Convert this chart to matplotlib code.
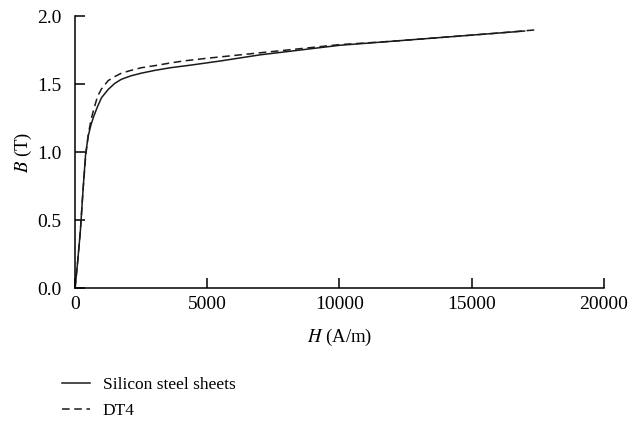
import matplotlib
matplotlib.use("Agg")
import matplotlib.pyplot as plt

# B-H magnetisation curves of two core materials
h_silicon = [0, 100, 200, 300, 400, 500, 600, 700, 850, 1000, 1250, 1500, 1750,
             2100, 2500, 3000, 3600, 4400, 5500, 7000, 8500, 10000, 12000,
             14000, 16000, 17000]
b_silicon = [0, 0.2, 0.42, 0.72, 0.99, 1.12, 1.20, 1.26, 1.335, 1.40, 1.46, 1.505,
             1.535, 1.56, 1.58, 1.60, 1.62, 1.64, 1.67, 1.715, 1.75, 1.785, 1.815,
             1.845, 1.875, 1.89]

h_dt4 = [0, 100, 200, 300, 400, 500, 600, 700, 850, 1000, 1250, 1500, 1750,
         2100, 2500, 3000, 3600, 4100, 5000, 6000, 7000, 8500, 10000, 12000,
         14000, 16000, 17500]
b_dt4 = [0, 0.2, 0.42, 0.72, 0.97, 1.13, 1.235, 1.31, 1.41, 1.465, 1.525, 1.555,
         1.58, 1.60, 1.62, 1.635, 1.655, 1.67, 1.69, 1.71, 1.73, 1.76, 1.79,
         1.815, 1.845, 1.875, 1.90]

x_ticks = [0, 5000, 10000, 15000, 20000]
y_ticks = [0.0, 0.5, 1.0, 1.5, 2.0]

plt.rcParams["font.family"] = ["Liberation Serif", "DejaVu Serif"]
plt.rcParams["mathtext.fontset"] = "stix"

fig = plt.figure(figsize=(6.31, 4.23), dpi=100)
ax = fig.add_axes([0.119, 0.319, 0.838, 0.643])

ax.plot(h_silicon, b_silicon, color="#1a1a1a", lw=1.1, ls="-",
        label="Silicon steel sheets")
ax.plot(h_dt4, b_dt4, color="#1a1a1a", lw=1.1, ls=(0, (5, 3)), label="DT4")

ax.set_xlim(0, 20000)
ax.set_ylim(0, 2.0)
ax.set_xticks(x_ticks)
ax.set_yticks(y_ticks)
ax.set_yticklabels([f"{v:.1f}" for v in y_ticks])
ax.tick_params(direction="in", length=7, width=1.1, labelsize=14)
ax.tick_params(axis="x", pad=6)
ax.tick_params(axis="y", pad=10)
for side in ("top", "right"):
    ax.spines[side].set_visible(False)
for side in ("left", "bottom"):
    ax.spines[side].set_linewidth(1.1)

ax.set_xlabel(r"$\it{H}$ (A/m)", fontsize=13.5, labelpad=10)
ax.set_ylabel(r"$\it{B}$ (T)", fontsize=13.5, labelpad=2)

fig.legend(loc="upper left", bbox_to_anchor=(0.087, 0.125),
           frameon=False, fontsize=12.5, handlelength=1.6, handletextpad=0.75,
           labelspacing=0.55, borderaxespad=0, bbox_transform=fig.transFigure)

fig.savefig("out.png", dpi=100)
